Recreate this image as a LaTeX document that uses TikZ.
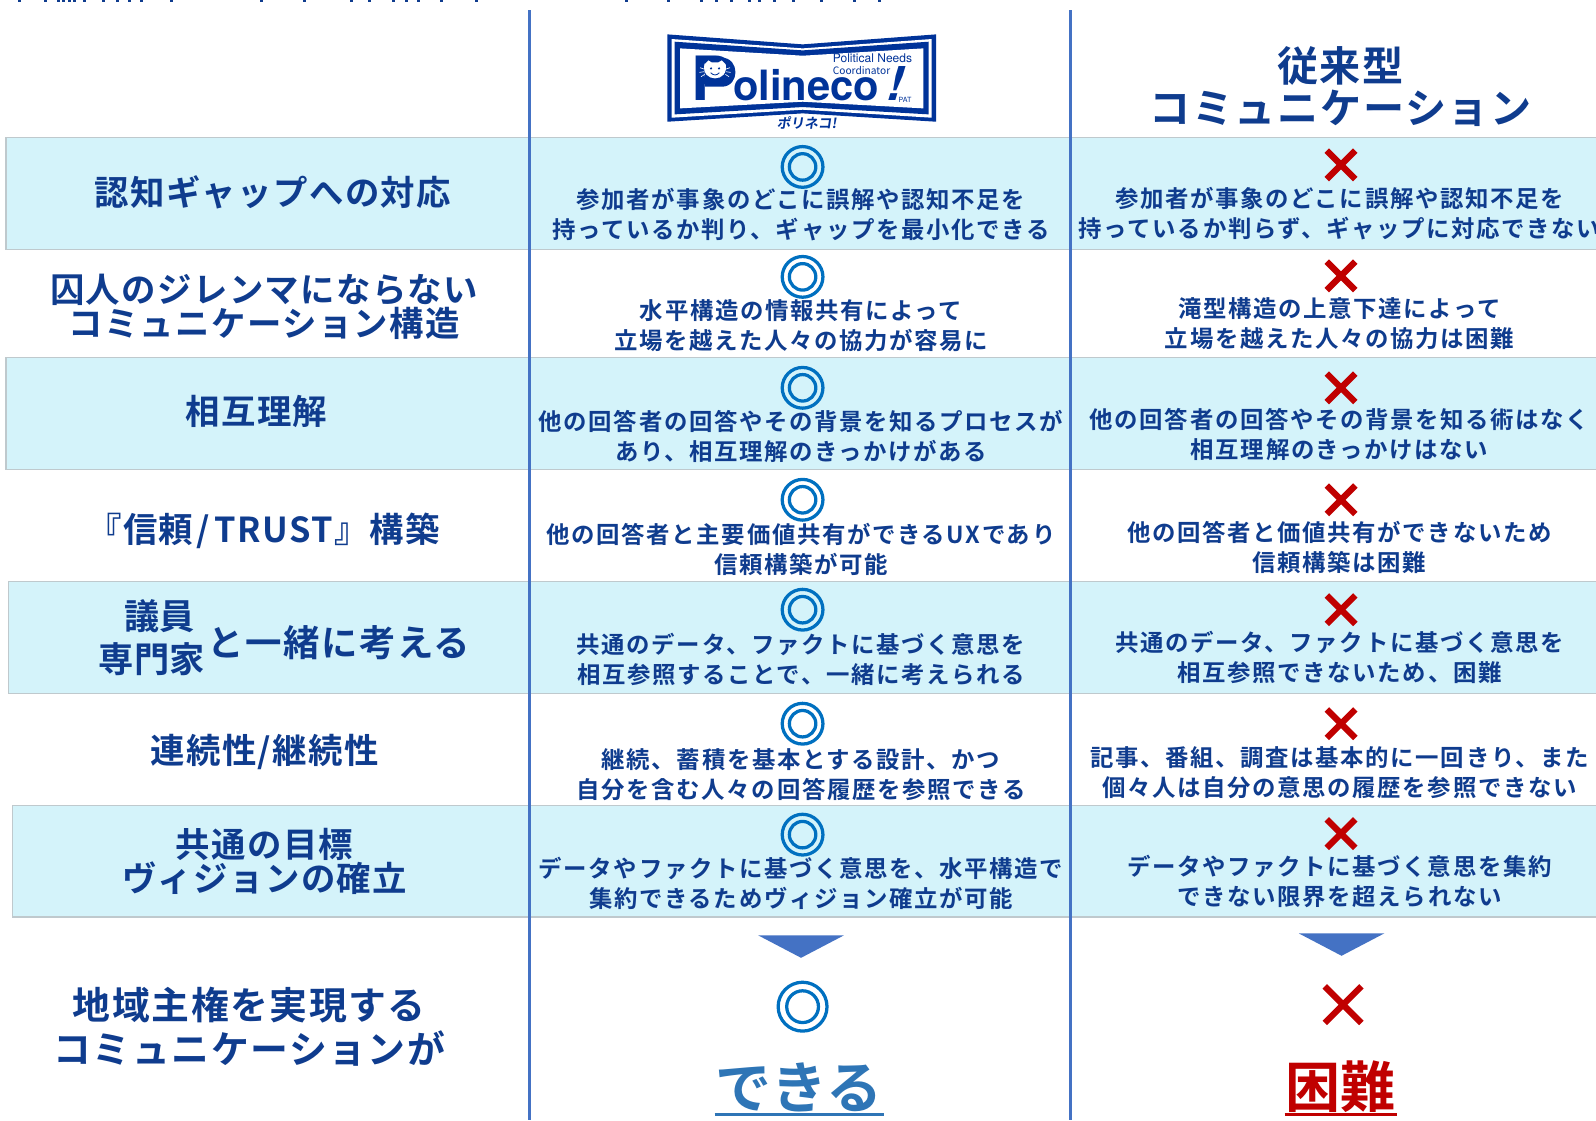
\documentclass[tikz,border=0pt]{standalone}
\usepackage{fontspec}
\setmainfont{Noto Sans CJK JP}[BoldFont={Noto Sans CJK JP Bold}]
\newfontfamily\jpb{Noto Sans CJK JP Bold}
\newfontfamily\jpbs{Noto Sans CJK JP Bold}[LetterSpace=7]
\newfontfamily\jpbl{Noto Sans CJK JP Bold}[LetterSpace=4]
\newfontfamily\jpslant{Noto Sans CJK JP Bold}[FakeSlant=0.15]
\newfontfamily\hero{TeX Gyre Heros}
\newfontfamily\herob{TeX Gyre Heros Bold}
\newfontfamily\heroslant{TeX Gyre Heros Bold}[FakeSlant=0.3]
\newcommand{\tightlines}{\lineskiplimit=-50pt\relax}
\definecolor{ink}{HTML}{0F3C8E}
\definecolor{band}{HTML}{D4F3FA}
\definecolor{bandline}{HTML}{BFC9CD}
\definecolor{rule}{HTML}{4472C4}
\definecolor{okblue}{HTML}{0070C0}
\definecolor{ngred}{HTML}{C00000}
\definecolor{canblue}{HTML}{2E75B6}
\definecolor{logoblue}{HTML}{003399}
\tikzset{
  bandbox/.style={fill=band,draw=bandline,line width=1.2pt},
  colrule/.style={draw=rule,line width=2.6pt},
  cell/.style={inner sep=0pt,align=center,text=ink,font=\jpbs\fontsize{23}{29.6}\selectfont\tightlines},
  lab/.style={inner sep=0pt,align=center,text=ink,font=\jpbl\fontsize{33.8}{33.6}\selectfont\tightlines},
  bigl/.style={inner sep=0pt,align=center,text=ink,font=\jpbl\fontsize{37.2}{43.5}\selectfont\tightlines},
  head/.style={inner sep=0pt,align=center,text=ink,font=\jpbl\fontsize{40.4}{40}\selectfont},
  ring/.style={draw=okblue,line width=3.2pt},
  crossline/.style={draw=ngred,line width=6.2pt},
  tri/.style={fill=rule,draw=none}
}
\newcommand{\dblring}[4]{% name, x, y, scale
  \node[ring,circle,minimum size=#4*40pt,inner sep=0pt] (#1) at (#2,#3) {};
  \node[ring,circle,minimum size=#4*26pt,inner sep=0pt] at (#1.center) {};
}
\newcommand{\cross}[4]{%
  \coordinate (#1) at (#2,#3);
  \draw[crossline] ([shift={(-#4,-#4)}]#1) -- ([shift={(#4,#4)}]#1);
  \draw[crossline] ([shift={(-#4,#4)}]#1) -- ([shift={(#4,-#4)}]#1);
}
\begin{document}
\begin{tikzpicture}[x=1pt,y=-1pt]
\useasboundingbox (0,0) rectangle (1568,1100.4);
\clip (0,0) rectangle (1568,1100.4);
\fill[white] (0,0) rectangle (1568,1100.4);
% remains of the cropped top line
\foreach \t in {18,44,57,62,68,73,83,102,116,128,140,170,260,303,350,368,392,405,417,440,475,625,667,700,715,730,748,758,773,792,820,853,878}
  \fill[ink] (0.9825*\t,0) rectangle ++(2.5,1.5);
% bands
\draw[bandbox] (6,135) rectangle (1590,245);
\draw[bandbox] (6,351) rectangle (1590,461);
\draw[bandbox] (8,571) rectangle (1590,681);
\draw[bandbox] (12,791) rectangle (1590,901);
% column rules
\coordinate (r1t) at (520.5,10); \coordinate (r1b) at (520.5,1100.4);
\coordinate (r2t) at (1051.5,10); \coordinate (r2b) at (1051.5,1100.4);
\draw[colrule] (r1t) -- (r1b);
\draw[colrule] (r2t) -- (r2b);
% logo (coordinates are those of a 3x crop)
\begin{scope}[shift={(628.8,24.6)},x=0.3275pt,y=-0.3275pt]
  \fill[logoblue] (82,28) -- (488,58) -- (888,28) -- (888,290) -- (488,265) -- (82,290) -- cycle;
  \fill[white] (95,42) -- (488,70) -- (875,42) -- (875,278) -- (488,254) -- (95,278) -- cycle;
  \fill[logoblue] (104,50) -- (488,76) -- (866,50) -- (866,268) -- (488,246) -- (104,268) -- cycle;
  \fill[white] (120,70) -- (488,92) -- (850,70) -- (850,250) -- (488,230) -- (120,250) -- cycle;
  \node[anchor=base west,inner sep=0pt,text=logoblue] (logotext) at (155,225)
    {\herob\fontsize{60}{60}\selectfont P\kern0.5pt\fontsize{41}{41}\selectfont olineco\kern5pt{\heroslant\fontsize{46}{46}\selectfont !}};
  \fill[logoblue] (195,98) -- (245,98) .. controls (300,98) and (300,185) .. (245,185) -- (195,185) -- cycle;
  \fill[white] (193,118) -- (205,106) -- (215,112) -- (235,112) -- (245,106) -- (257,118)
     .. controls (262,145) and (245,160) .. (225,160) .. controls (205,160) and (188,145) .. (193,118) -- cycle;
  \fill[logoblue] (213,130) circle (3.5) (237,130) circle (3.5);
  \draw[logoblue,line width=.8pt] (212,143) .. controls (220,152) and (230,152) .. (238,143);
  \draw[white,line width=.6pt] (192,132) -- (180,128) (192,140) -- (178,142) (194,148) -- (183,155)
     (258,132) -- (270,128) (258,140) -- (272,142) (256,148) -- (267,155);
  \node[anchor=north west,inner sep=0pt,align=left,text=logoblue] (logosub) at (578,86)
    {\hero\fontsize{11.8}{8.2}\selectfont\tightlines Political Needs\\Coordinator};
  \node[inner sep=0pt,text=logoblue] (logopat) at (795,226) {\hero\fontsize{7}{7}\selectfont PAT};
  \node[inner sep=0pt,text=logoblue] (logokana) at (500,293) {\jpslant\fontsize{13.5}{13.5}\selectfont ポリネコ!};
\end{scope}
% header right
\node[head,text height=30pt,text depth=4pt] (h2) at (1317,67) {従来型};
\node[head,text height=30pt,text depth=4pt] (h3) at (1317,108) {コミュニケーション};
% left labels
\node[lab] (l1) at (268,189) {認知ギャップへの対応};
\node[lab] (l2) at (259.5,305) {\strut 囚人のジレンマにならない\\\strut コミュニケーション構造};
\node[lab] (l3) at (252,404) {相互理解};
\node[lab] (l4) at (259,522) {『信頼\kern3pt/\kern5pt TRUST』構築};
\node[lab,font=\jpb\fontsize{34.6}{42}\selectfont\tightlines] (l5a) at (149,631) {\strut\hspace{16pt}議員\\\strut 専門家};
\node[lab,font=\jpbl\fontsize{35.8}{36}\selectfont] (l5b) at (333,631) {と一緒に考える};
\node[lab] (l6) at (260,739) {連続性/継続性};
\node[lab] (l7) at (260,850) {\strut 共通の目標\\\strut ヴィジョンの確立};
\node[bigl] (l8) at (245,1014) {\strut 地域主権を実現する\\\strut コミュニケーションが};
% middle column
\node[cell] (m1) at (787,214) {\strut 参加者が事象のどこに誤解や認知不足を\\\strut 持っているか判り、ギャップを最小化できる};
\node[cell] (m2) at (787,323) {\strut 水平構造の情報共有によって\\\strut 立場を越えた人々の協力が容易に};
\node[cell] (m3) at (787,432) {\strut 他の回答者の回答やその背景を知るプロセスが\\\strut あり、相互理解のきっかけがある};
\node[cell] (m4) at (787,543) {\strut 他の回答者と主要価値共有ができるUXであり\\\strut 信頼構築が可能};
\node[cell] (m5) at (787,651) {\strut 共通のデータ、ファクトに基づく意思を\\\strut 相互参照することで、一緒に考えられる};
\node[cell] (m6) at (787,764) {\strut 継続、蓄積を基本とする設計、かつ\\\strut 自分を含む人々の回答履歴を参照できる};
\node[cell] (m7) at (787,871) {\strut データやファクトに基づく意思を、水平構造で\\\strut 集約できるためヴィジョン確立が可能};
% right column
\node[cell] (c1) at (1316,213) {\strut 参加者が事象のどこに誤解や認知不足を\\\strut 持っているか判らず、ギャップに対応できない};
\node[cell] (c2) at (1316,321) {\strut 滝型構造の上意下達によって\\\strut 立場を越えた人々の協力は困難};
\node[cell] (c3) at (1316,430) {\strut 他の回答者の回答やその背景を知る術はなく\\\strut 相互理解のきっかけはない};
\node[cell] (c4) at (1316,541) {\strut 他の回答者と価値共有ができないため\\\strut 信頼構築は困難};
\node[cell] (c5) at (1316,649) {\strut 共通のデータ、ファクトに基づく意思を\\\strut 相互参照できないため、困難};
\node[cell] (c6) at (1316,762) {\strut 記事、番組、調査は基本的に一回きり、また\\\strut 個々人は自分の意思の履歴を参照できない};
\node[cell] (c7) at (1316,869) {\strut データやファクトに基づく意思を集約\\\strut できない限界を超えられない};
% rings and crosses
\dblring{o1}{788.5}{164}{1}
\dblring{o2}{788.5}{272}{1}
\dblring{o3}{788.5}{381}{1}
\dblring{o4}{788.5}{491}{1}
\dblring{o5}{788.5}{599}{1}
\dblring{o6}{788.5}{711}{1}
\dblring{o7}{788.5}{820}{1}
\dblring{o8}{788.5}{989}{1.2}
\cross{x1}{1317.5}{162}{14}
\cross{x2}{1317.5}{271}{14}
\cross{x3}{1317.5}{381}{14}
\cross{x4}{1317.5}{491}{14}
\cross{x5}{1317.5}{599}{14}
\cross{x6}{1317.5}{711}{14}
\cross{x7}{1317.5}{819}{14}
\cross{x8}{1319.5}{987}{18}
% triangles
\fill[tri] (745,919) -- (829,919) -- (787,941) -- cycle;
\fill[tri] (1276,917) -- (1360,917) -- (1318,939) -- cycle;
% verdicts
\node[inner sep=0pt,text=canblue,font=\jpb\fontsize{55}{55}\selectfont] (yes) at (785,1068.5) {できる};
\node[inner sep=0pt,text=ngred,font=\jpb\fontsize{54}{54}\selectfont] (no) at (1317,1068) {困難};
\coordinate (ya) at (702,1095); \coordinate (yb) at (868,1095);
\coordinate (na) at (1262,1095); \coordinate (nb) at (1372,1095);
\draw[canblue,line width=3pt] (ya) -- (yb);
\draw[ngred,line width=3pt] (na) -- (nb);
\end{tikzpicture}
\end{document}
